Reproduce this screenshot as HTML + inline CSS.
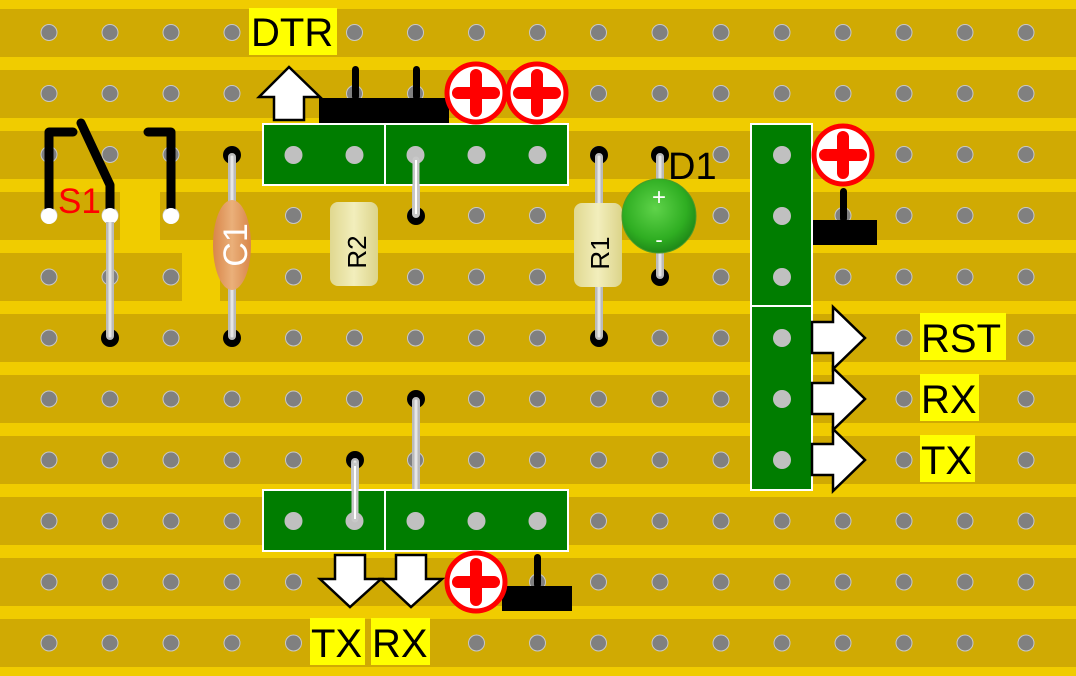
<!DOCTYPE html>
<html><head><meta charset="utf-8"><style>
html,body{margin:0;padding:0;background:#f0cc00;}
svg{display:block;}
text{font-family:"Liberation Sans",Arial,sans-serif;}
</style></head><body>
<svg width="1076" height="676" viewBox="0 0 1076 676" xmlns="http://www.w3.org/2000/svg">
<defs>
<radialGradient id="led" cx="0.45" cy="0.4" r="0.6"><stop offset="0" stop-color="#5fd34a"/><stop offset="0.7" stop-color="#2fae22"/><stop offset="1" stop-color="#1f8a18"/></radialGradient>
<linearGradient id="cap" x1="0" x2="1"><stop offset="0" stop-color="#d9864a"/><stop offset="0.5" stop-color="#eab07a"/><stop offset="1" stop-color="#d9864a"/></linearGradient>
<linearGradient id="res" x1="0" x2="1"><stop offset="0" stop-color="#e0d890"/><stop offset="0.5" stop-color="#f2eebc"/><stop offset="1" stop-color="#dcd48a"/></linearGradient>
<g id="plus"><circle r="29" fill="#fff" stroke="#f00" stroke-width="5"/><path d="M-18 0H18M0 -18V18" stroke="#f00" stroke-width="12" stroke-linecap="round"/></g>
<g id="row" fill="#808080" stroke="#c8c8c8" stroke-width="1"><circle cx="49" cy="0" r="8"/><circle cx="110" cy="0" r="8"/><circle cx="171" cy="0" r="8"/><circle cx="232" cy="0" r="8"/><circle cx="293.5" cy="0" r="8"/><circle cx="354.5" cy="0" r="8"/><circle cx="415.5" cy="0" r="8"/><circle cx="476.5" cy="0" r="8"/><circle cx="537.5" cy="0" r="8"/><circle cx="598.5" cy="0" r="8"/><circle cx="660" cy="0" r="8"/><circle cx="721" cy="0" r="8"/><circle cx="782" cy="0" r="8"/><circle cx="843" cy="0" r="8"/><circle cx="904" cy="0" r="8"/><circle cx="965" cy="0" r="8"/><circle cx="1026" cy="0" r="8"/></g>
</defs>
<rect width="1076" height="676" fill="#f0cc00"/>
<g fill="#d0aa03">
<rect x="0" y="9" width="1076" height="48"/>
<rect x="0" y="70" width="1076" height="48"/>
<rect x="0" y="131" width="1076" height="48"/>
<rect x="0" y="192" width="1076" height="48"/>
<rect x="0" y="253" width="1076" height="48"/>
<rect x="0" y="314" width="1076" height="48"/>
<rect x="0" y="375" width="1076" height="48"/>
<rect x="0" y="436" width="1076" height="48"/>
<rect x="0" y="497" width="1076" height="48"/>
<rect x="0" y="558" width="1076" height="48"/>
<rect x="0" y="619" width="1076" height="48"/>
</g>
<rect x="120" y="192" width="40" height="48" fill="#f0cc00"/>
<rect x="182" y="253" width="38" height="48" fill="#f0cc00"/>
<use href="#row" y="32.5"/><use href="#row" y="93.5"/><use href="#row" y="154.5"/><use href="#row" y="215.5"/><use href="#row" y="277"/><use href="#row" y="338"/><use href="#row" y="399"/><use href="#row" y="460"/><use href="#row" y="521"/><use href="#row" y="582"/><use href="#row" y="643"/>

<!-- wire links -->
<g stroke-linecap="round">
<g fill="#000"><circle cx="110" cy="338" r="9"/><circle cx="232" cy="155" r="9"/><circle cx="232" cy="338" r="9"/><circle cx="416" cy="216" r="9"/><circle cx="599" cy="155" r="9"/><circle cx="599" cy="338" r="9"/><circle cx="660" cy="155" r="9"/><circle cx="660" cy="277" r="9"/><circle cx="416" cy="399" r="9"/><circle cx="355" cy="460" r="9"/></g>
<path d="M110 216V336M232 157V336M416 157V214M599 157V336M660 157V275M416 401V519M355 462V519" stroke="#bbb" stroke-width="8"/>
<path d="M110 216V336M232 157V336M416 157V214M599 157V336M660 157V275M416 401V519M355 462V519" stroke="#e6e6e6" stroke-width="3"/>
</g>

<!-- headers -->
<g fill="#007d00" stroke="#fff" stroke-width="2">
<rect x="263" y="124" width="122" height="61"/><rect x="385" y="124" width="183" height="61"/>
<rect x="263" y="490" width="122" height="61"/><rect x="385" y="490" width="183" height="61"/>
<rect x="751" y="124" width="61" height="182"/><rect x="751" y="306" width="61" height="184"/>
</g>
<g fill="#c0c0c0">
<circle cx="293.5" cy="155" r="9"/><circle cx="354.5" cy="155" r="9"/><circle cx="415.5" cy="155" r="9"/><circle cx="476.5" cy="155" r="9"/><circle cx="537.5" cy="155" r="9"/>
<circle cx="293.5" cy="521" r="9"/><circle cx="354.5" cy="521" r="9"/><circle cx="415.5" cy="521" r="9"/><circle cx="476.5" cy="521" r="9"/><circle cx="537.5" cy="521" r="9"/>
<circle cx="782" cy="155" r="9"/><circle cx="782" cy="216" r="9"/><circle cx="782" cy="277" r="9"/><circle cx="782" cy="338" r="9"/><circle cx="782" cy="399" r="9"/><circle cx="782" cy="460" r="9"/>
</g>
<path d="M416 160V214M355 466V519" stroke="#c8c8c8" stroke-width="7" stroke-linecap="round"/>
<path d="M416 160V214M355 466V519" stroke="#fff" stroke-width="2"/>

<!-- S1 -->
<g stroke="#000" stroke-width="9" fill="none" stroke-linecap="round" stroke-linejoin="round">
<path d="M49 216V132H73"/><path d="M81 123L110 185V216"/><path d="M148 132H171V216"/>
</g>
<g fill="#fff"><circle cx="49" cy="216" r="8"/><circle cx="110" cy="216" r="8"/><circle cx="171" cy="216" r="8"/></g>
<path d="M110 222V336" stroke="#bbb" stroke-width="8"/>
<path d="M110 222V336" stroke="#e6e6e6" stroke-width="3"/>
<text x="58" y="213" font-size="35" fill="#f00">S1</text>

<!-- C1 -->
<ellipse cx="232" cy="245" rx="19" ry="45" fill="url(#cap)"/>
<text transform="translate(247,245) rotate(-90)" font-size="34" fill="#fff" text-anchor="middle">C1</text>
<!-- R2 -->
<rect x="330" y="202" width="48" height="84" rx="8" fill="url(#res)"/>
<text transform="translate(366,252) rotate(-90)" font-size="26" fill="#000" text-anchor="middle">R2</text>
<!-- R1 -->
<rect x="574" y="203" width="48" height="84" rx="8" fill="url(#res)"/>
<text transform="translate(609,253) rotate(-90)" font-size="26" fill="#000" text-anchor="middle">R1</text>
<!-- D1 -->
<circle cx="659" cy="216" r="37" fill="url(#led)" stroke="#4a9a2a" stroke-width="1"/>
<text x="659" y="205" font-size="24" fill="#fff" text-anchor="middle">+</text>
<text x="659" y="247" font-size="22" fill="#fff" text-anchor="middle">-</text>
<text x="668" y="179" font-size="38" fill="#000">D1</text>

<!-- ground symbols -->
<g fill="#000">
<rect x="319" y="98" width="130" height="25"/>
<rect x="352" y="66" width="7" height="34" rx="3.5"/><rect x="413" y="66" width="7" height="34" rx="3.5"/>
<rect x="813" y="220" width="64" height="25"/><rect x="840" y="188" width="7" height="34" rx="3.5"/>
<rect x="502" y="586" width="70" height="25"/><rect x="534" y="554" width="7" height="34" rx="3.5"/>
</g>
<use href="#plus" x="476" y="93"/><use href="#plus" x="537" y="93"/><use href="#plus" x="843" y="155"/><use href="#plus" x="476" y="582"/>

<!-- arrows -->
<g fill="#fff" stroke="#000" stroke-width="2.5" stroke-linejoin="miter">
<path d="M289 67L320 97H304V120H274V97H259Z"/>
<path d="M335 555H365V579H381L350 607L320 579H335Z"/>
<path d="M396 555H426V579H442L411 607L381 579H396Z"/>
<path d="M812 322H833V307L865 338L833 369V353H812Z"/>
<path d="M812 383H833V368L865 399L833 430V414H812Z"/>
<path d="M812 444H833V429L865 460L833 491V475H812Z"/>
</g>

<!-- labels -->
<g fill="#ffff00">
<rect x="249" y="8" width="88" height="47"/>
<rect x="920" y="313" width="86" height="47"/>
<rect x="920" y="374" width="59" height="47"/>
<rect x="920" y="435" width="55" height="47"/>
<rect x="310" y="618" width="55" height="47"/>
<rect x="371" y="618" width="59" height="47"/>
</g>
<g font-size="40" fill="#000">
<text x="251" y="46">DTR</text>
<text x="921" y="352">RST</text>
<text x="921" y="413">RX</text>
<text x="921" y="474">TX</text>
<text x="311" y="657">TX</text>
<text x="372" y="657">RX</text>
</g>
</svg>
</body></html>
